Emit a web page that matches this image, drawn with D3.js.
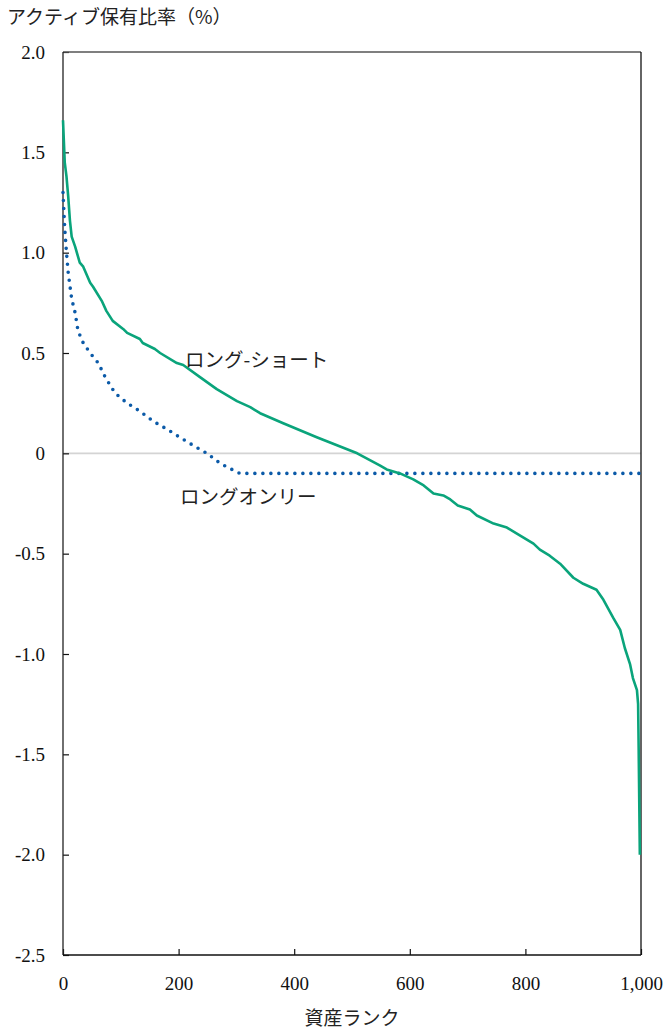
<!DOCTYPE html>
<html>
<head>
<meta charset="utf-8">
<script src="https://cdn.jsdelivr.net/npm/d3@7"></script>
<style>
  html, body { margin: 0; padding: 0; background: #fff; }
  svg { display: block; }
  .jp { font-family: "Noto Sans CJK JP", "Noto Sans", sans-serif; fill: #222; }
</style>
</head>
<body>
<div id="chart"></div>
<script>
// [資産ランク, アクティブ保有比率(%)]
const longShort = [
  [0, 1.66], [3, 1.45], [6, 1.38], [9, 1.28], [12, 1.16], [15, 1.08], [21, 1.03], [29, 0.95],
  [35, 0.93], [47, 0.85], [52, 0.83], [67, 0.76], [75, 0.71], [86, 0.66], [104, 0.62],
  [111, 0.60], [133, 0.57], [138, 0.55], [159, 0.52], [168, 0.50], [197, 0.45], [208, 0.44],
  [237, 0.38], [266, 0.32], [301, 0.26], [324, 0.23], [341, 0.20], [381, 0.15], [439, 0.08],
  [509, 0.0], [548, -0.06], [560, -0.08], [583, -0.10], [606, -0.13], [624, -0.16],
  [641, -0.20], [658, -0.21], [670, -0.23], [683, -0.26], [704, -0.28], [716, -0.31],
  [745, -0.35], [768, -0.37], [791, -0.41], [814, -0.45], [825, -0.48], [842, -0.51],
  [860, -0.55], [883, -0.62], [900, -0.65], [923, -0.68], [935, -0.73], [952, -0.82],
  [964, -0.88], [972, -0.97], [981, -1.05], [986, -1.12], [993, -1.18], [995, -1.25],
  [996, -1.48], [998, -2.0]
];
const longOnly = [
  [0, 1.30], [3, 1.12], [6, 1.00], [9, 0.90], [15, 0.77], [21, 0.70], [26, 0.61], [35, 0.55],
  [47, 0.50], [61, 0.45], [73, 0.38], [90, 0.30], [111, 0.25], [133, 0.21], [156, 0.16],
  [180, 0.12], [202, 0.08], [225, 0.04], [249, 0.0], [272, -0.05], [285, -0.07], [306, -0.10],
  [1000, -0.10]
];
const yTicks = [2.0, 1.5, 1.0, 0.5, 0, -0.5, -1.0, -1.5, -2.0, -2.5];
const xTicks = [0, 200, 400, 600, 800, 1000];
const yTitle = 'アクティブ保有比率（%）';
const xTitle = '資産ランク';
const seriesLabels = ['ロング-ショート', 'ロングオンリー'];

const W = 664, H = 1030;
const m = { left: 63, right: 23, top: 52, bottom: 75 };
const SERIF = '"Liberation Serif", "DejaVu Serif", serif';

const svg = d3.select('#chart').append('svg').attr('width', W).attr('height', H);

const x = d3.scaleLinear().domain([0, 1000]).range([m.left, W - m.right]);
const y = d3.scaleLinear().domain([-2.5, 2]).range([H - m.bottom, m.top]);

// zero line
svg.append('line')
  .attr('x1', x(0)).attr('x2', x(1000)).attr('y1', y(0)).attr('y2', y(0))
  .attr('stroke', '#d4d4d4').attr('stroke-width', 1.6);

// axes, ticks pointing inward
const fmtY = d => d === 0 ? '0' : d3.format('.1f')(d).replace('−', '-');
const gy = svg.append('g').attr('transform', `translate(${x(0)},0)`)
  .call(d3.axisLeft(y).tickValues(yTicks).tickSize(-6).tickPadding(18).tickFormat(fmtY));
const gx = svg.append('g').attr('transform', `translate(0,${y(-2.5)})`)
  .call(d3.axisBottom(x).tickValues(xTicks).tickSize(-6).tickPadding(22)
    .tickFormat(d => d3.format(',')(d)));
[gy, gx].forEach(g => {
  g.attr('font-family', SERIF).attr('font-size', 19);
  g.select('.domain').remove();
  g.selectAll('.tick line').attr('stroke', '#111').attr('stroke-width', 1.2);
  g.selectAll('.tick text').attr('fill', '#111')
    .style('font-family', SERIF).style('font-size', '19px');
});

// frame
const fr = svg.append('g').attr('fill', 'none').attr('stroke-width', 1.3);
fr.append('line').attr('x1', x(0)).attr('x2', x(1000)).attr('y1', y(2)).attr('y2', y(2)).attr('stroke', '#555');
fr.append('line').attr('x1', x(0)).attr('x2', x(0)).attr('y1', y(2)).attr('y2', y(-2.5)).attr('stroke', '#222');
fr.append('line').attr('x1', x(1000)).attr('x2', x(1000)).attr('y1', y(2)).attr('y2', y(-2.5)).attr('stroke', '#111');
fr.append('line').attr('x1', x(0)).attr('x2', x(1000)).attr('y1', y(-2.5)).attr('y2', y(-2.5)).attr('stroke', '#111');

const line = d3.line().x(d => x(d[0])).y(d => y(d[1]));

svg.append('path').datum(longOnly).attr('d', line)
  .attr('fill', 'none').attr('stroke', '#0b5aa8').attr('stroke-width', 3.6)
  .attr('stroke-linecap', 'round').attr('stroke-dasharray', '0 8');

svg.append('path').datum(longShort).attr('d', line)
  .attr('fill', 'none').attr('stroke', '#0aa47b').attr('stroke-width', 2.6)
  .attr('stroke-linejoin', 'round');

// labels
svg.append('text').attr('class', 'jp').attr('x', 185).attr('y', 367)
  .attr('font-size', 19.5).text(seriesLabels[0]);
svg.append('text').attr('class', 'jp').attr('x', 180).attr('y', 504)
  .attr('font-size', 19.5).text(seriesLabels[1]);

svg.append('text').attr('class', 'jp').attr('x', 7).attr('y', 24)
  .attr('font-size', 19).text(yTitle);
svg.append('text').attr('class', 'jp').attr('x', (x(0) + x(1000)) / 2).attr('y', 1025)
  .attr('text-anchor', 'middle').attr('font-size', 19).text(xTitle);
</script>
</body>
</html>
